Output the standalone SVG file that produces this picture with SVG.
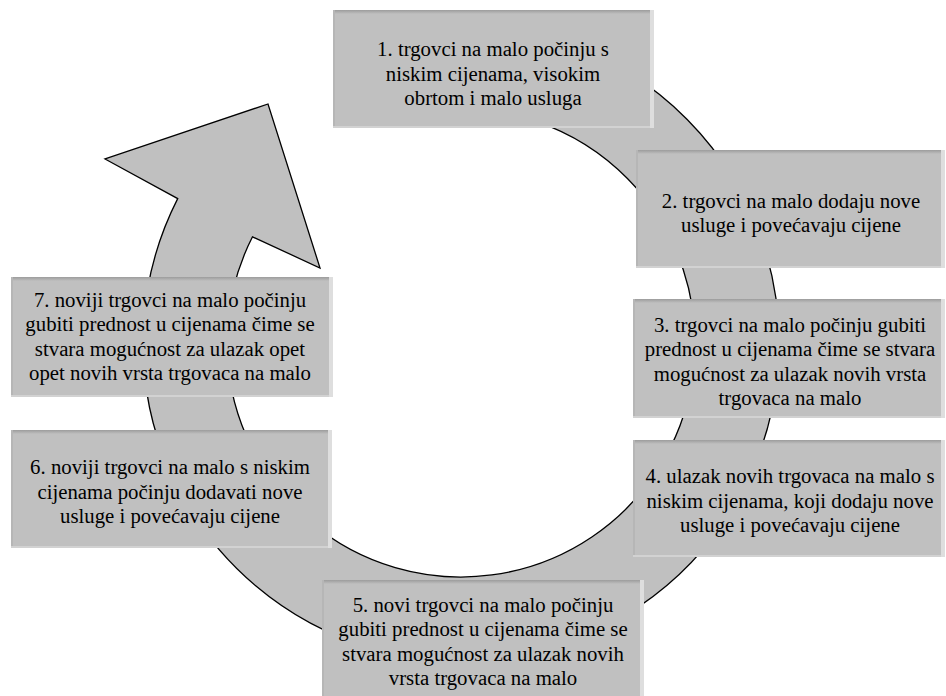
<svg xmlns="http://www.w3.org/2000/svg" width="946" height="696" viewBox="0 0 946 696">
<defs>
<linearGradient id="topEdge" x1="0" y1="0" x2="0" y2="1">
<stop offset="0" stop-color="#9c9c9c"/>
<stop offset="1" stop-color="#c0c0c0"/>
</linearGradient>
<style>
.ring{fill:#c0c0c0;stroke:#000;stroke-width:1.3;stroke-linejoin:miter}
.box{fill:#c0c0c0}
.tp{fill:url(#topEdge)}
.rt{fill:#dedede}
.bt{fill:#d2d2d2}
.lf{fill:#b6b6b6}
.lbl{font-family:'Liberation Serif',serif;font-size:20.8px;fill:#000;text-anchor:middle}
</style>
</defs>
<rect width="946" height="696" fill="#fff"/>
<g id="connectors">
<path class="ring" d="M433.3,26.2 A318,318 0 1 1 177.7,198.6 L105,159 L268,104 L320,268 L252.5,236.8 A234,234 0 1 0 440.6,109.9 Z"/>
</g>
<g font-family="Liberation Serif, serif" font-size="20.8" text-anchor="middle">
<g id="node1">
<rect class="box" x="333" y="10" width="321" height="118"/>
<rect class="tp" x="333" y="10" width="321" height="4"/>
<rect class="lf" x="333" y="10" width="2" height="118"/>
<rect class="bt" x="333" y="126" width="321" height="2"/>
<rect class="rt" x="650" y="10" width="4" height="118"/>
<text class="lbl"><tspan x="493" y="56">1. trgovci na malo počinju s</tspan><tspan x="493" y="80.5">niskim cijenama, visokim</tspan><tspan x="493" y="105">obrtom i malo usluga</tspan></text>
</g>
<g id="node2">
<rect class="box" x="636" y="150" width="309" height="118"/>
<rect class="tp" x="636" y="150" width="309" height="4"/>
<rect class="lf" x="636" y="150" width="2" height="118"/>
<rect class="bt" x="636" y="266" width="309" height="2"/>
<rect class="rt" x="941" y="150" width="4" height="118"/>
<text class="lbl"><tspan x="791" y="207.5">2. trgovci na malo dodaju nove</tspan><tspan x="791" y="232">usluge i povećavaju cijene</tspan></text>
</g>
<g id="node3">
<rect class="box" x="633" y="299" width="312" height="119"/>
<rect class="tp" x="633" y="299" width="312" height="4"/>
<rect class="lf" x="633" y="299" width="2" height="119"/>
<rect class="bt" x="633" y="416" width="312" height="2"/>
<rect class="rt" x="941" y="299" width="4" height="119"/>
<text class="lbl"><tspan x="790" y="331.5">3. trgovci na malo počinju gubiti</tspan><tspan x="790" y="356">prednost u cijenama čime se stvara</tspan><tspan x="790" y="380.5">mogućnost za ulazak novih vrsta</tspan><tspan x="790" y="405">trgovaca na malo</tspan></text>
</g>
<g id="node4">
<rect class="box" x="633" y="440" width="312" height="117"/>
<rect class="tp" x="633" y="440" width="312" height="4"/>
<rect class="lf" x="633" y="440" width="2" height="117"/>
<rect class="bt" x="633" y="555" width="312" height="2"/>
<rect class="rt" x="941" y="440" width="4" height="117"/>
<text class="lbl"><tspan x="790" y="483">4. ulazak novih trgovaca na malo s</tspan><tspan x="790" y="507.5">niskim cijenama, koji dodaju nove</tspan><tspan x="790" y="532">usluge i povećavaju cijene</tspan></text>
</g>
<g id="node5">
<rect class="box" x="322" y="580" width="322" height="120"/>
<rect class="tp" x="322" y="580" width="322" height="4"/>
<rect class="lf" x="322" y="580" width="2" height="120"/>
<rect class="rt" x="640" y="580" width="4" height="120"/>
<text class="lbl"><tspan x="483" y="611.5">5. novi trgovci na malo počinju</tspan><tspan x="483" y="636">gubiti prednost u cijenama čime se</tspan><tspan x="483" y="660.5">stvara mogućnost za ulazak novih</tspan><tspan x="483" y="685">vrsta trgovaca na malo</tspan></text>
</g>
<g id="node6">
<rect class="box" x="11" y="430" width="321" height="118"/>
<rect class="tp" x="11" y="430" width="321" height="4"/>
<rect class="lf" x="11" y="430" width="2" height="118"/>
<rect class="bt" x="11" y="546" width="321" height="2"/>
<rect class="rt" x="328" y="430" width="4" height="118"/>
<text class="lbl"><tspan x="170" y="474">6. noviji trgovci na malo s niskim</tspan><tspan x="170" y="498.5">cijenama počinju dodavati nove</tspan><tspan x="170" y="523">usluge i povećavaju cijene</tspan></text>
</g>
<g id="node7">
<rect class="box" x="11" y="277" width="322" height="120"/>
<rect class="tp" x="11" y="277" width="322" height="4"/>
<rect class="lf" x="11" y="277" width="2" height="120"/>
<rect class="bt" x="11" y="395" width="322" height="2"/>
<rect class="rt" x="329" y="277" width="4" height="120"/>
<text class="lbl"><tspan x="170" y="306.5">7. noviji trgovci na malo počinju</tspan><tspan x="170" y="331">gubiti prednost u cijenama čime se</tspan><tspan x="170" y="355.5">stvara mogućnost za ulazak opet</tspan><tspan x="170" y="380">opet novih vrsta trgovaca na malo</tspan></text>
</g>
</g>
</svg>
